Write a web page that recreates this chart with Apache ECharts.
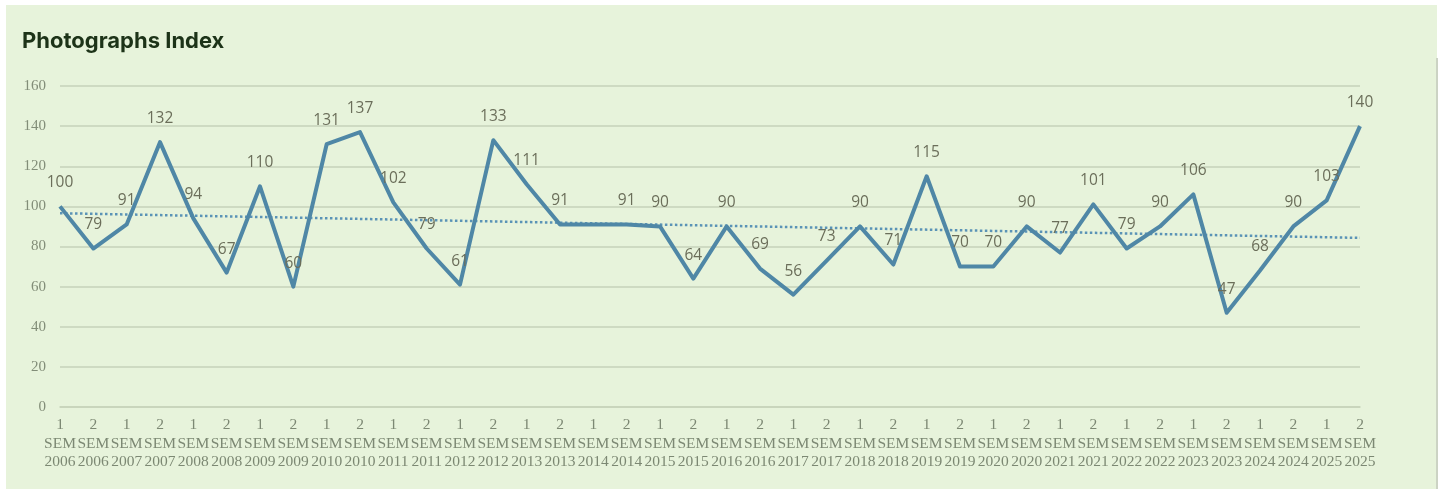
<!DOCTYPE html>
<html>
<head>
<meta charset="utf-8">
<script src="https://cdn.jsdelivr.net/npm/echarts@6/dist/echarts.min.js"></script>
<style>
html,body{margin:0;padding:0;background:#ffffff;width:1444px;height:493px;overflow:hidden;}
#card{position:absolute;left:6px;top:5px;width:1431px;height:484px;background:#e7f3db;}
#edge{position:absolute;left:1436px;top:58px;width:2px;height:431px;background:#ccd3c4;}
#chart{position:absolute;left:0;top:0;width:1431px;height:484px;}
</style>
</head>
<body>
<div id="card"><div id="chart"></div></div>
<div id="edge"></div>
<script>
const semesters = ["1","2","1","2","1","2","1","2","1","2","1","2","1","2","1","2","1","2","1","2","1","2","1","2","1","2","1","2","1","2","1","2","1","2","1","2","1","2","1","2"];
const years = ["2006","2006","2007","2007","2008","2008","2009","2009","2010","2010","2011","2011","2012","2012","2013","2013","2014","2014","2015","2015","2016","2016","2017","2017","2018","2018","2019","2019","2020","2020","2021","2021","2022","2022","2023","2023","2024","2024","2025","2025"];
const values = [100,79,91,132,94,67,110,60,131,137,102,79,61,133,111,91,91,91,90,64,90,69,56,73,90,71,115,70,70,90,77,101,79,90,106,47,68,90,103,140];
const hiddenLabels = [16];
const trendStart = 96.6;
const trendEnd = 84.3;
const yTicks = {min:0, max:160, interval:20};

const categories = semesters.map((s,i) => s + "\nSEM\n" + years[i]);
const trendData = values.map((v,i) => i === 0 ? trendStart : (i === values.length-1 ? trendEnd : null));
const mainData = values.map((v,i) => hiddenLabels.includes(i) ? {value:v, label:{show:false}} : v);

const chart = echarts.init(document.getElementById('chart'));
chart.setOption({
  animation:false,
  title:{text:'Photographs Index', left:11, top:20, textStyle:{fontFamily:'Inter', fontWeight:'bold', fontSize:22, color:'#1d3318'}},
  grid:{left:54, right:77, top:81, bottom:82, containLabel:false},
  xAxis:{
    type:'category', data:categories, boundaryGap:false,
    axisLine:{show:true, lineStyle:{color:'#c6d2ba', width:1.5}},
    axisTick:{show:false},
    axisLabel:{interval:0, margin:9, fontFamily:'Liberation Serif', fontSize:15.5, lineHeight:18.5, color:'#7c8873'},
    splitLine:{show:false}
  },
  yAxis:{
    type:'value', min:yTicks.min, max:yTicks.max, interval:yTicks.interval,
    axisLine:{show:false}, axisTick:{show:false},
    axisLabel:{margin:14, fontFamily:'Liberation Serif', fontSize:15, color:'#828d78'},
    splitLine:{lineStyle:{color:'#c6d2ba', width:1.5}}
  },
  series:[
    {
      type:'line', data:trendData, connectNulls:true, symbol:'none', z:1, silent:true,
      lineStyle:{color:'#5a93b6', width:2.5, type:'dotted'}
    },
    {
      type:'line', data:mainData, symbol:'circle', symbolSize:1, showSymbol:true, z:2,
      itemStyle:{color:'rgba(0,0,0,0)'},
      lineStyle:{color:'#4f87a6', width:4, join:'round'},
      label:{show:true, position:'top', distance:15, fontFamily:'Open Sans', fontSize:15.5, color:'#6b6e5a'},
      labelLayout:{hideOverlap:false}
    }
  ]
});
</script>
</body>
</html>
